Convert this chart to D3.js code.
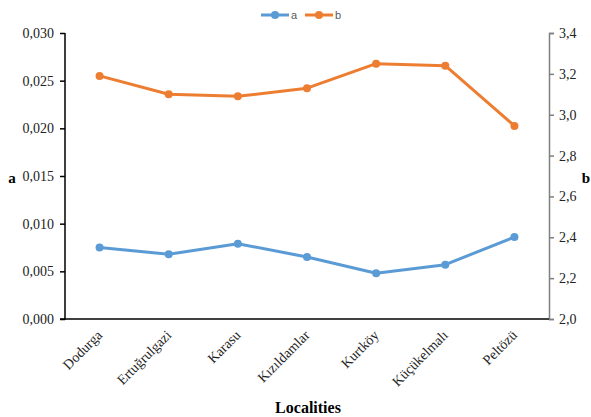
<!DOCTYPE html>
<html><head><meta charset="utf-8">
<script src="https://cdn.jsdelivr.net/npm/d3@7"></script>
<style>body{margin:0;background:#fff}svg{display:block}
.ax text{font-family:'Liberation Serif','Times New Roman',serif !important;fill:#222}
</style>
</head><body>
<script>
const categories = ["Dodurga","Ertuğrulgazi","Karasu","Kızıldamlar","Kurtköy","Küçükelmalı","Peltözü"];
const seriesA = [0.0075,0.0068,0.0079,0.0065,0.0048,0.0057,0.0086];
const seriesB = [3.19,3.10,3.09,3.13,3.25,3.24,2.945];
const leftTicks = [0,0.005,0.010,0.015,0.020,0.025,0.030];
const rightTicks = [2.0,2.2,2.4,2.6,2.8,3.0,3.2,3.4];

const W=591,H=417;
const m={l:65,r:42,t:33,b:98};
const svg=d3.select("body").append("svg").attr("width",W).attr("height",H);
const x=d3.scalePoint().domain(categories).range([m.l,W-m.r]).padding(0.5);
const yA=d3.scaleLinear().domain([0,0.030]).range([H-m.b,m.t]);
const yB=d3.scaleLinear().domain([2.0,3.4]).range([H-m.b,m.t]);
const serif="'Liberation Serif','Times New Roman',serif";
const fmt3=d=>d3.format(".3f")(d).replace(".",",");
const fmt1=d=>d3.format(".1f")(d).replace(".",",");

const gl=svg.append("g").attr("class","ax").attr("transform",`translate(${m.l},0)`)
 .call(d3.axisLeft(yA).tickValues(leftTicks).tickFormat(fmt3).tickSize(5).tickPadding(6));
const gr=svg.append("g").attr("class","ax").attr("transform",`translate(${W-m.r},0)`)
 .call(d3.axisRight(yB).tickValues(rightTicks).tickFormat(fmt1).tickSize(5).tickPadding(5));
const gb=svg.append("g").attr("class","ax").attr("transform",`translate(0,${H-m.b})`)
 .call(d3.axisBottom(x).tickSize(0).tickPadding(0));
[gl,gr,gb].forEach(g=>{g.attr("font-family",serif).attr("font-size",14);g.selectAll("text").style("font-size","14px");});
gl.selectAll("path,line").attr("stroke","#000").attr("stroke-width",1.5);
gr.selectAll("path,line").attr("stroke","#7f7f7f").attr("stroke-width",1.5);
gb.select("path").attr("stroke","#000").attr("stroke-width",1.5).attr("d",`M${m.l},0H${W-m.r}`);
gb.selectAll("text").attr("text-anchor","end").attr("dy","0").style("font-size","14px")
 .attr("transform","translate(3,17) rotate(-45)");
gl.select(".domain").attr("d",`M-5,${H-m.b}H0V${m.t}`);

const series=[{name:"a",vals:seriesA,y:yA,c:"#5b9bd5"},{name:"b",vals:seriesB,y:yB,c:"#ed7d31"}];
series.forEach(s=>{
  const line=d3.line().x((d,i)=>x(categories[i])).y(d=>s.y(d));
  svg.append("path").datum(s.vals).attr("d",line).attr("fill","none").attr("stroke",s.c).attr("stroke-width",3).attr("stroke-linejoin","round");
  svg.selectAll(null).data(s.vals).enter().append("circle")
   .attr("cx",(d,i)=>x(categories[i])).attr("cy",d=>s.y(d)).attr("r",4).attr("fill",s.c);
});

// legend
const leg=[{name:"a",c:"#5b9bd5",x0:261},{name:"b",c:"#ed7d31",x0:305}];
leg.forEach(l=>{
  svg.append("line").attr("x1",l.x0).attr("x2",l.x0+28).attr("y1",15).attr("y2",15).attr("stroke",l.c).attr("stroke-width",3);
  svg.append("circle").attr("cx",l.x0+14).attr("cy",15).attr("r",4).attr("fill",l.c);
  svg.append("text").attr("x",l.x0+30).attr("y",19).text(l.name).attr("font-family","'Liberation Sans',Arial,sans-serif").attr("font-size",11).attr("fill","#595959");
});

svg.append("text").attr("x",12).attr("y",183).attr("text-anchor","middle").text("a").attr("font-family",serif).attr("font-weight","bold").attr("font-size",15);
svg.append("text").attr("x",586).attr("y",183).attr("text-anchor","middle").text("b").attr("font-family",serif).attr("font-weight","bold").attr("font-size",15);
svg.append("text").attr("x",308).attr("y",413).attr("text-anchor","middle").text("Localities").attr("font-family",serif).attr("font-weight","bold").attr("font-size",16);
</script>
</body></html>
